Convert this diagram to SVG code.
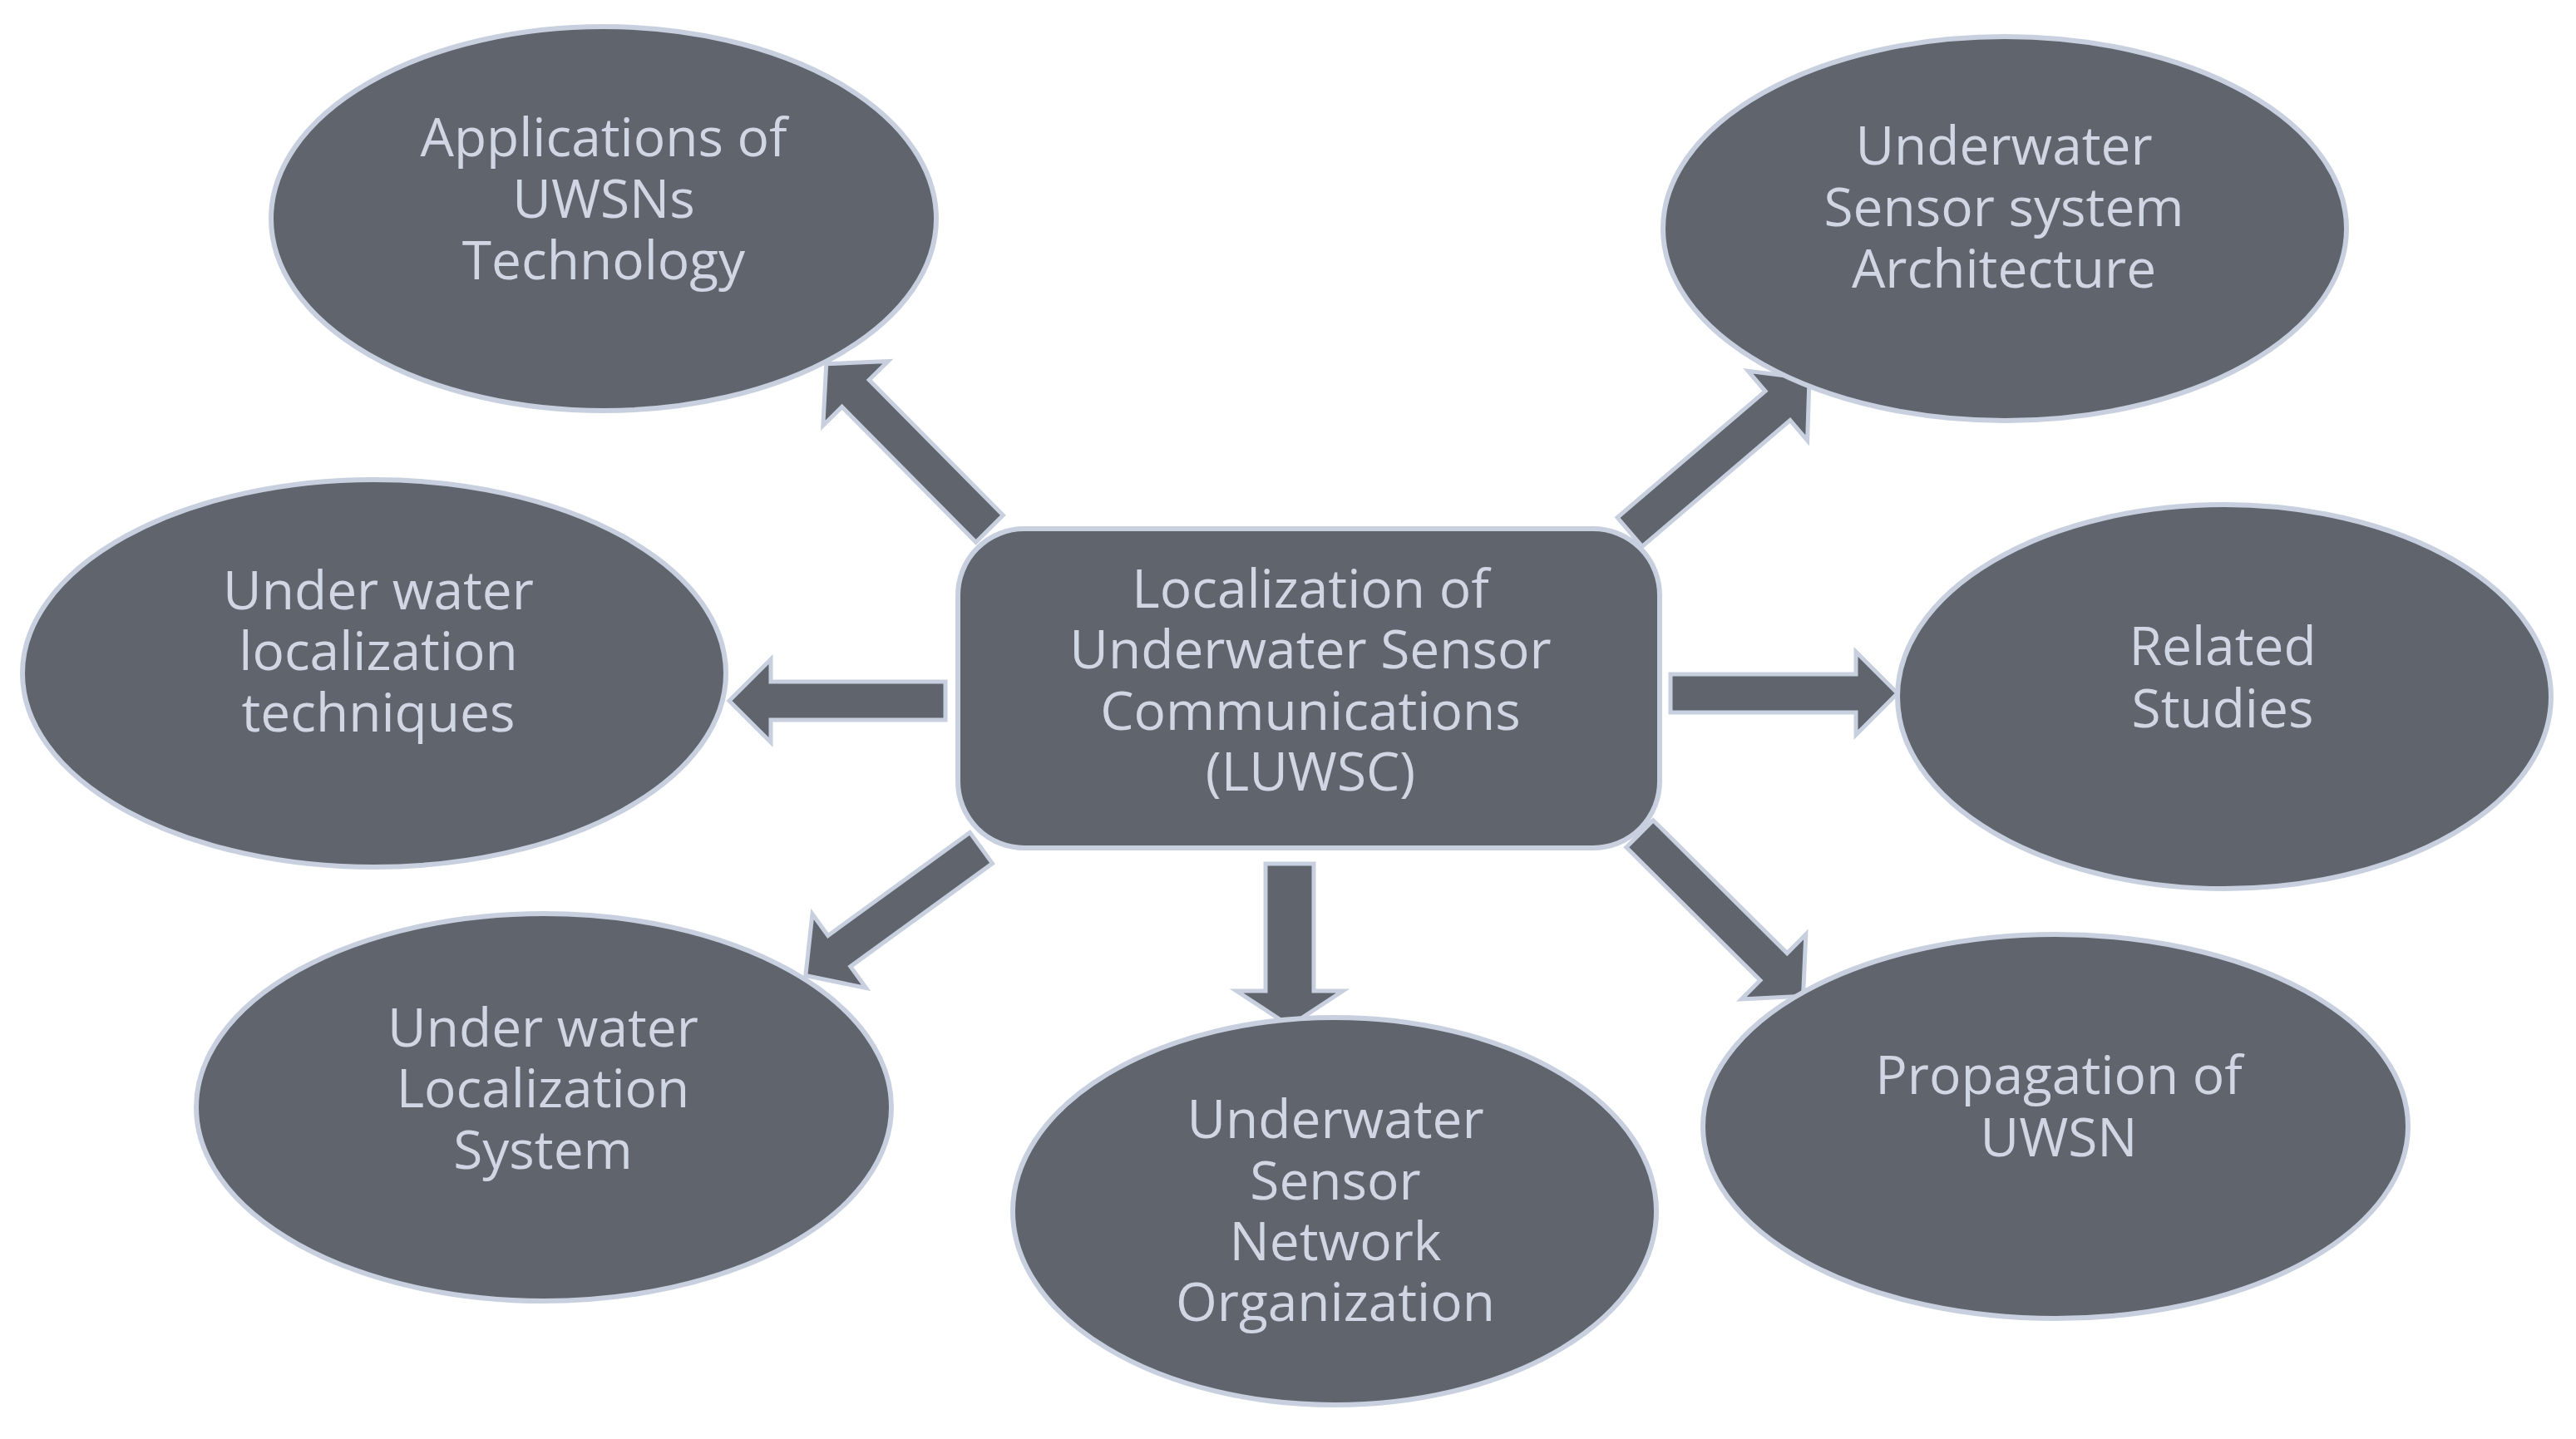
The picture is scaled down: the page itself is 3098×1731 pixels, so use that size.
<svg xmlns="http://www.w3.org/2000/svg" width="3098" height="1731" viewBox="0 0 3098 1731">
<style>
.n{fill:#60646c;stroke:#c8d0e0;stroke-width:6}
.a{fill:#60646c;stroke:#c8d0e0;stroke-width:5;stroke-linejoin:miter}
.t{font-family:"Open Sans","Liberation Sans",sans-serif;font-size:64px;fill:#d0d6e4;text-anchor:middle}
</style>
<rect width="3098" height="1731" fill="#ffffff"/>
<g id="connectors">
<path class="a" transform="translate(1190,636) rotate(225.3)" d="M0,-23 L229,-23 L229,-55 L279,0 L229,55 L229,23 L0,23 Z"/>
<path class="a" transform="translate(1960,640) rotate(-40.5)" d="M0,-23 L234,-23 L234,-55 L284,0 L234,55 L234,23 L0,23 Z"/>
<path class="a" transform="translate(1137,843) rotate(180)" d="M0,-23 L210,-23 L210,-50 L260,0 L210,50 L210,23 L0,23 Z"/>
<path class="a" transform="translate(2009,834)" d="M0,-23 L223,-23 L223,-50 L273,0 L223,50 L223,23 L0,23 Z"/>
<path class="a" transform="translate(1180,1020) rotate(144)" d="M0,-23 L211,-23 L211,-55 L261,0 L211,55 L211,23 L0,23 Z"/>
<path class="a" transform="translate(1551,1039) rotate(90)" d="M0,-29 L153,-29 L153,-64 L195,0 L153,64 L153,29 L0,29 Z"/>
<path class="a" transform="translate(1972,1003) rotate(44.8)" d="M0,-23 L227,-23 L227,-55 L277,0 L227,55 L227,23 L0,23 Z"/>
</g>
<g id="center">
<rect class="n" x="1152" y="636" width="844" height="384" rx="80" ry="80"/>
<text class="t"><tspan x="1576" y="731">Localization of</tspan><tspan x="1576" y="804">Underwater Sensor</tspan><tspan x="1576" y="878">Communications</tspan><tspan x="1576" y="951">(LUWSC)</tspan></text>
</g>
<g id="applications">
<ellipse class="n" cx="726" cy="263" rx="400" ry="231"/>
<text class="t"><tspan x="726" y="188">Applications of</tspan><tspan x="726" y="262">UWSNs</tspan><tspan x="726" y="336">Technology</tspan></text>
</g>
<g id="architecture">
<ellipse class="n" cx="2411" cy="275" rx="411" ry="231"/>
<text class="t"><tspan x="2410" y="198">Underwater</tspan><tspan x="2410" y="272">Sensor system</tspan><tspan x="2410" y="346">Architecture</tspan></text>
</g>
<g id="techniques">
<ellipse class="n" cx="450" cy="810" rx="423" ry="233"/>
<text class="t"><tspan x="455" y="733">Under water</tspan><tspan x="455" y="806">localization</tspan><tspan x="455" y="880">techniques</tspan></text>
</g>
<g id="related">
<ellipse class="n" cx="2675" cy="838" rx="393" ry="231"/>
<text class="t"><tspan x="2673" y="800">Related</tspan><tspan x="2673" y="875">Studies</tspan></text>
</g>
<g id="system">
<ellipse class="n" cx="654" cy="1332" rx="418" ry="233"/>
<text class="t"><tspan x="653" y="1259">Under water</tspan><tspan x="653" y="1332">Localization</tspan><tspan x="653" y="1406">System</tspan></text>
</g>
<g id="organization">
<ellipse class="n" cx="1605" cy="1457" rx="387" ry="233"/>
<text class="t"><tspan x="1606" y="1369">Underwater</tspan><tspan x="1606" y="1443">Sensor</tspan><tspan x="1606" y="1516">Network</tspan><tspan x="1606" y="1589">Organization</tspan></text>
</g>
<g id="propagation">
<ellipse class="n" cx="2472" cy="1355" rx="424" ry="231"/>
<text class="t"><tspan x="2476" y="1316">Propagation of</tspan><tspan x="2476" y="1391">UWSN</tspan></text>
</g>
</svg>
